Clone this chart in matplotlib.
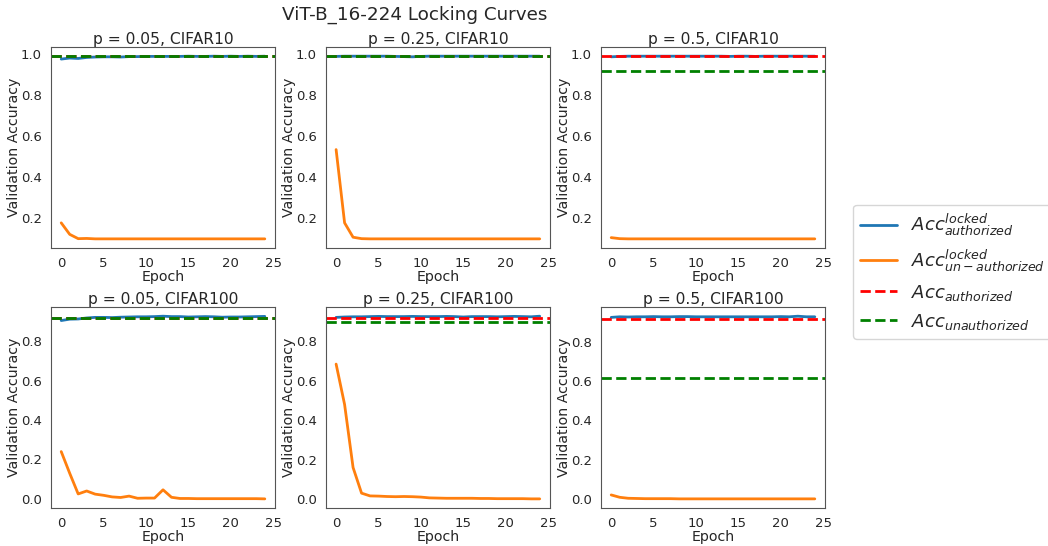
import matplotlib
matplotlib.use('Agg')

import numpy as np
import matplotlib.pyplot as plt
import seaborn as sns

# ============================================================================
# DATA
# ============================================================================
epochs = np.arange(25)

titles = ["p = 0.05, CIFAR10", "p = 0.25, CIFAR10", "p = 0.5, CIFAR10",
          "p = 0.05, CIFAR100", "p = 0.25, CIFAR100", "p = 0.5, CIFAR100"]

# locked model, authorized inputs
acc_locked_auth = [
    [0.976, 0.981, 0.979, 0.984, 0.986, 0.987, 0.987, 0.986, 0.988, 0.988, 0.989, 0.989, 0.989,
     0.989, 0.989, 0.990, 0.989, 0.989, 0.990, 0.989, 0.990, 0.989, 0.990, 0.989, 0.990],
    [0.989, 0.990, 0.990, 0.990, 0.990, 0.990, 0.990, 0.989, 0.988, 0.987, 0.989, 0.990, 0.990,
     0.990, 0.990, 0.990, 0.990, 0.990, 0.990, 0.990, 0.990, 0.990, 0.990, 0.990, 0.990],
    [0.986, 0.988, 0.989, 0.989, 0.989, 0.989, 0.989, 0.989, 0.989, 0.989, 0.989, 0.989, 0.989,
     0.989, 0.988, 0.989, 0.989, 0.988, 0.989, 0.989, 0.989, 0.989, 0.989, 0.989, 0.989],
    [0.905, 0.912, 0.913, 0.918, 0.921, 0.921, 0.920, 0.922, 0.923, 0.924, 0.924, 0.925, 0.927,
     0.925, 0.925, 0.923, 0.924, 0.925, 0.924, 0.922, 0.923, 0.923, 0.924, 0.925, 0.926],
    [0.922, 0.924, 0.925, 0.925, 0.926, 0.927, 0.926, 0.926, 0.926, 0.927, 0.926, 0.926, 0.926,
     0.927, 0.926, 0.924, 0.926, 0.926, 0.926, 0.925, 0.926, 0.927, 0.926, 0.925, 0.928],
    [0.923, 0.926, 0.925, 0.926, 0.926, 0.927, 0.926, 0.926, 0.927, 0.927, 0.926, 0.926, 0.926,
     0.926, 0.926, 0.926, 0.926, 0.926, 0.926, 0.926, 0.927, 0.926, 0.929, 0.926, 0.926],
]

# locked model, un-authorized inputs
acc_locked_unauth = [
    [0.178, 0.122, 0.101, 0.102, 0.100, 0.100, 0.100, 0.100, 0.100, 0.100, 0.100, 0.100, 0.100,
     0.100, 0.100, 0.100, 0.100, 0.100, 0.100, 0.100, 0.100, 0.100, 0.100, 0.100, 0.100],
    [0.535, 0.178, 0.108, 0.101, 0.100, 0.100, 0.100, 0.100, 0.100, 0.100, 0.100, 0.100, 0.100,
     0.100, 0.100, 0.100, 0.100, 0.100, 0.100, 0.100, 0.100, 0.100, 0.100, 0.100, 0.100],
    [0.106, 0.101, 0.100, 0.100, 0.100, 0.100, 0.100, 0.100, 0.100, 0.100, 0.100, 0.100, 0.100,
     0.100, 0.100, 0.100, 0.100, 0.100, 0.100, 0.100, 0.100, 0.100, 0.100, 0.100, 0.100],
    [0.240, 0.130, 0.025, 0.040, 0.024, 0.018, 0.010, 0.007, 0.014, 0.003, 0.004, 0.004, 0.046,
     0.008, 0.002, 0.002, 0.001, 0.001, 0.001, 0.001, 0.001, 0.001, 0.001, 0.001, 0.000],
    [0.685, 0.480, 0.160, 0.030, 0.016, 0.015, 0.013, 0.012, 0.013, 0.012, 0.010, 0.006, 0.005,
     0.004, 0.004, 0.004, 0.004, 0.003, 0.003, 0.002, 0.002, 0.002, 0.002, 0.001, 0.001],
    [0.020, 0.008, 0.003, 0.002, 0.001, 0.001, 0.001, 0.001, 0.000, 0.000, 0.000, 0.000, 0.000,
     0.000, 0.000, 0.000, 0.000, 0.000, 0.000, 0.000, 0.000, 0.000, 0.000, 0.000, 0.000],
]

# baselines (plain, unlocked training)
acc_authorized = [0.991, 0.991, 0.990, 0.917, 0.917, 0.917]
acc_unauthorized = [0.991, 0.989, 0.918, 0.917, 0.901, 0.617]

labels = [r'$Acc_{authorized}^{locked}$', r'$Acc_{un-authorized}^{locked}$',
          r'$Acc_{authorized}$', r'$Acc_{unauthorized}$']

# ============================================================================
# PLOT
# ============================================================================
sns.set_style("white")

fig = plt.figure(figsize=(10.48, 5.46), dpi=100)
fig.suptitle("ViT-B_16-224 Locking Curves", x=0.396, y=0.972, va='center', fontsize=13.2)

lefts = [0.0487, 0.311, 0.5735]
bottoms = [0.5458, 0.0696]
w, h = 0.2137, 0.368

for i in range(6):
    ax = fig.add_axes([lefts[i % 3], bottoms[i // 3], w, h])
    ax.plot(epochs, acc_locked_auth[i], color='tab:blue', lw=2, label=labels[0])
    ax.plot(epochs, acc_locked_unauth[i], color='tab:orange', lw=2, label=labels[1])
    ax.axhline(acc_authorized[i], color='red', ls='--', lw=2, label=labels[2])
    ax.axhline(acc_unauthorized[i], color='green', ls='--', lw=2, label=labels[3])
    ax.set_title(titles[i], fontsize=11.2, pad=2)
    ax.set_xlabel("Epoch", fontsize=10.2, labelpad=0)
    ax.set_ylabel("Validation Accuracy", fontsize=10.2, labelpad=0)
    ax.set_xticks([0, 5, 10, 15, 20, 25])
    if i >= 3:
        ax.set_yticks([0.0, 0.2, 0.4, 0.6, 0.8])
    else:
        ax.set_yticks([0.2, 0.4, 0.6, 0.8, 1.0])
    ax.tick_params(labelsize=9.5, pad=3)
    for s in ax.spines.values():
        s.set_edgecolor('#555555')

handles, lbls = ax.get_legend_handles_labels()
fig.legend(handles, lbls, loc='center left', bbox_to_anchor=(0.809, 0.502),
           fontsize=13, frameon=True, handlelength=2.0, borderaxespad=0.3)

plt.savefig("out.png", dpi=100)
plt.close()
